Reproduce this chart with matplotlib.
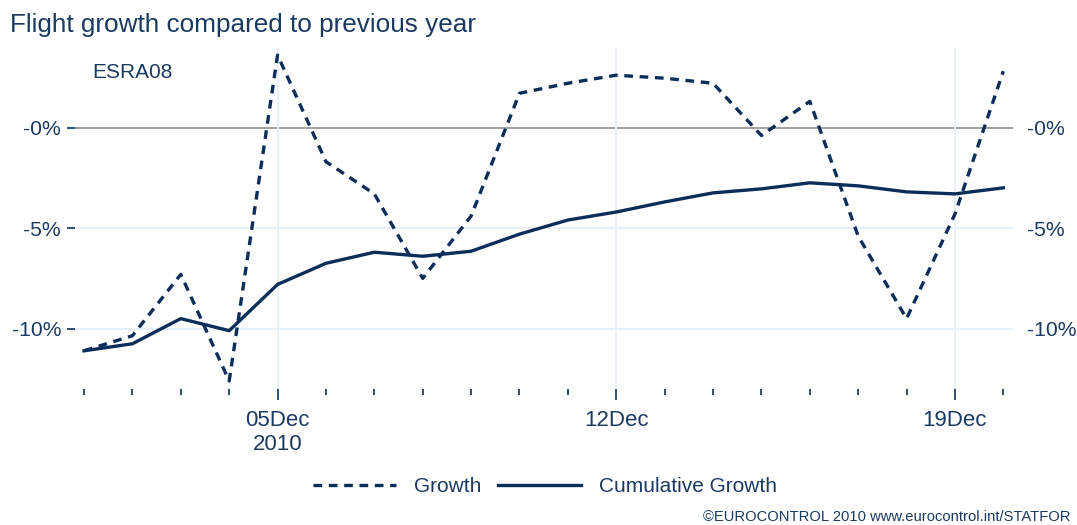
import matplotlib
matplotlib.use('Agg')
import matplotlib.pyplot as plt
import matplotlib.dates as mdates
from matplotlib.ticker import FixedLocator, FuncFormatter
import pandas as pd

# daily values, 1 Dec - 20 Dec 2010
days = pd.date_range('2010-12-01', '2010-12-20', freq='D')
growth = [-11.1, -10.35, -7.3, -12.6, 3.6, -1.7, -3.3, -7.5, -4.4, 1.7,
          2.2, 2.6, 2.45, 2.2, -0.4, 1.3, -5.4, -9.5, -4.3, 2.8]
cumulative = [-11.1, -10.75, -9.5, -10.1, -7.8, -6.75, -6.2, -6.4, -6.15, -5.3,
              -4.6, -4.2, -3.7, -3.25, -3.05, -2.75, -2.9, -3.2, -3.3, -3.0]
ytick_vals = [0, -5, -10]
ytick_labels = ['-0%', '-5%', '-10%']

navy = '#0b2d5a'
txt = '#1a3a62'
plt.rcParams['font.family'] = ['Liberation Sans', 'DejaVu Sans']

fig = plt.figure(figsize=(10.77, 5.25), dpi=100)
ax = fig.add_axes([0.0696, 0.259, 0.871, 0.6495])

ax.plot(days, growth, color=navy, lw=2.4, ls=(0, (2.6, 2.0)), label='Growth')
ax.plot(days, cumulative, color=navy, lw=2.4, label='Cumulative Growth')

ax.set_xlim(days[0] - pd.Timedelta(hours=4.5), days[-1] + pd.Timedelta(hours=4.8))
ax.set_ylim(-13.0, 3.95)

for s in ax.spines.values():
    s.set_visible(False)

# y axis, labels on both sides
ax.yaxis.set_major_locator(FixedLocator(ytick_vals))
ax.set_yticklabels(ytick_labels)
ax.tick_params(axis='y', which='major', left=True, right=False,
               labelleft=True, labelright=True, length=6, width=1.2,
               color=navy, labelcolor=txt, labelsize=15.2, pad=4)
for v in ytick_vals:
    if v == 0:
        ax.axhline(v, color='#9a9a9a', lw=1.3, zorder=1)
    else:
        ax.axhline(v, color='#e6f0f7', lw=1.3, zorder=0)

# x axis
ax.xaxis.set_major_locator(mdates.DayLocator(bymonthday=[5, 12, 19]))
ax.xaxis.set_minor_locator(mdates.DayLocator())

def fmt(x, pos):
    d = mdates.num2date(x)
    s = d.strftime('%d%b')
    if pos == 0:
        s += '\n' + d.strftime('%Y')
    return s

ax.xaxis.set_major_formatter(FuncFormatter(fmt))
ax.tick_params(axis='x', which='major', length=8, width=1.2, color=navy,
               labelcolor=txt, labelsize=16, pad=7)
ax.tick_params(axis='x', which='minor', length=4, width=1.2, color=navy)
for lbl in ax.get_xticklabels():
    lbl.set_linespacing(1.2)
ax.grid(axis='x', which='major', color='#e6f0f7', lw=1.3, zorder=0)

fig.text(0.0093, 0.952, 'Flight growth compared to previous year', fontsize=18.8,
         color=txt, ha='left', va='center')
fig.text(92 / 1077, 1 - 72 / 525, 'ESRA08', fontsize=15, color=txt, ha='left', va='center')

leg = fig.legend(loc='center', bbox_to_anchor=(0.506, 0.0724), ncol=2, frameon=False,
                 fontsize=15, handlelength=4.0, handletextpad=0.85, columnspacing=0.8)
for t in leg.get_texts():
    t.set_color(txt)

fig.text(0.9944, 0.015, '\u00a9EUROCONTROL 2010 www.eurocontrol.int/STATFOR',
         fontsize=10.6, color=txt, ha='right', va='center')

fig.savefig('out.png', dpi=100)
